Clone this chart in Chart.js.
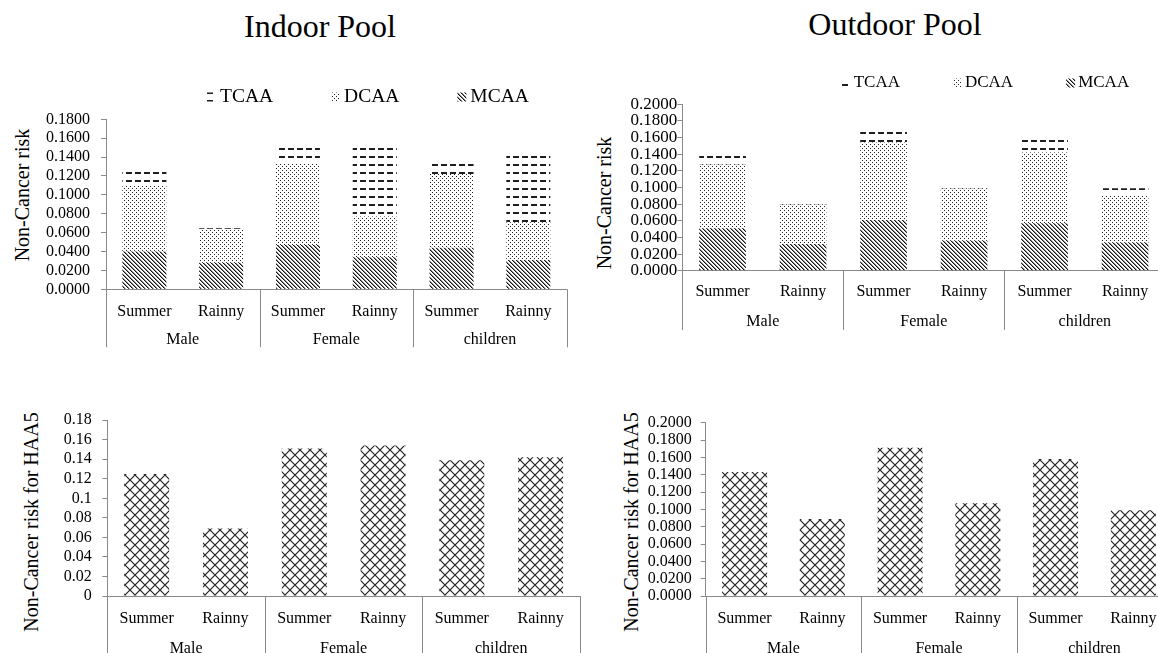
<!DOCTYPE html>
<html>
<head>
<meta charset="utf-8">
<script src="https://cdn.jsdelivr.net/npm/chart.js@4.4.1/dist/chart.umd.min.js"></script>
<style>
  html, body { margin: 0; padding: 0; background: #fff; }
  body { width: 1158px; height: 653px; overflow: hidden; position: relative; font-family: 'Liberation Serif', serif; color: #000; }
  canvas { position: absolute; }
  .title { position: absolute; font-size: 32px; line-height: 32px; white-space: nowrap; transform: translateX(-50%); }
  .ytitle { position: absolute; font-size: 20px; line-height: 20px; white-space: nowrap; transform: translate(-50%, -50%) rotate(-90deg); }
</style>
</head>
<body>
<div class="title" style="left:320px; top:10px;">Indoor Pool</div>
<div class="title" style="left:895px; top:8px;">Outdoor Pool</div>
<div class="ytitle" style="left:22px; top:195px;">Non-Cancer risk</div>
<div class="ytitle" style="left:604px; top:203px;">Non-Cancer risk</div>
<div class="ytitle" style="left:31px; top:522px;">Non-Cancer risk for HAA5</div>
<div class="ytitle" style="left:631px; top:522px;">Non-Cancer risk for HAA5</div>

<canvas id="indoorStack" width="590" height="300" style="left:0px; top:60px;"></canvas>
<canvas id="outdoorStack" width="600" height="290" style="left:590px; top:60px;"></canvas>
<canvas id="indoorTotal" width="600" height="253" style="left:0px; top:400px;"></canvas>
<canvas id="outdoorTotal" width="610" height="253" style="left:580px; top:400px;"></canvas>

<script>
// ---- data ----
const groups = ['Male', 'Female', 'children'];
const seasons = ['Summer', 'Rainny'];
const categories = ['Summer', 'Rainny', 'Summer', 'Rainny', 'Summer', 'Rainny'];

// Indoor pool, non-cancer risk by compound (stacked)
const indoorMCAA = [0.040, 0.028, 0.047, 0.034, 0.044, 0.031];
const indoorDCAA = [0.070, 0.036, 0.086, 0.043, 0.078, 0.040];
const indoorTCAA = [0.016, 0.005, 0.018, 0.078, 0.017, 0.072];

// Outdoor pool, non-cancer risk by compound (stacked)
const outdoorMCAA = [0.051, 0.032, 0.061, 0.036, 0.057, 0.034];
const outdoorDCAA = [0.077, 0.048, 0.093, 0.063, 0.085, 0.057];
const outdoorTCAA = [0.010, 0.005, 0.018, 0.007, 0.017, 0.008];

// Total HAA5 non-cancer risk
const indoorHAA5 = [0.125, 0.069, 0.151, 0.154, 0.139, 0.142];
const outdoorHAA5 = [0.143, 0.089, 0.171, 0.107, 0.158, 0.099];

// ---- styling helpers ----
const AXIS = '#8a8a8a';
const FAMILY = "'Liberation Serif', serif";

function tile(w, h, draw) {
  const c = document.createElement('canvas');
  c.width = w; c.height = h;
  const g = c.getContext('2d');
  draw(g);
  return document.createElement('canvas').getContext('2d').createPattern(c, 'repeat');
}
// downward diagonal stripes
const patMCAA = tile(4, 4, g => {
  for (let i = 0; i < 4; i++) {
    g.fillStyle = '#111'; g.fillRect(i, i, 1, 1);
    g.fillStyle = '#8a8a8a'; g.fillRect((i + 1) % 4, i, 1, 1);
  }
});
// fine dots
const patDCAA = tile(4, 4, g => {
  g.fillStyle = '#222';
  g.fillRect(0, 0, 1, 1); g.fillRect(2, 2, 1, 1);
});
// horizontal dashes
const patTCAA = tile(9, 8, g => {
  g.fillStyle = '#1e1e1e';
  g.fillRect(0, 0, 6, 2);
});
// diamond cross-hatch
const patHAA5 = tile(10, 10, g => {
  g.strokeStyle = '#222'; g.lineWidth = 1.2;
  g.beginPath();
  g.moveTo(-1, -1); g.lineTo(11, 11);
  g.moveTo(11, -1); g.lineTo(-1, 11);
  g.stroke();
});

// legend drawn as pattern swatches followed by the series name
const swatchLegend = {
  id: 'swatchLegend',
  afterDraw(chart, args, o) {
    if (!o || !o.order) return;
    const ctx = chart.ctx;
    ctx.save();
    ctx.font = o.size + 'px ' + FAMILY;
    ctx.textBaseline = 'middle';
    let x = o.x;
    o.order.forEach(i => {
      const ds = chart.data.datasets[i];
      ctx.fillStyle = ds.backgroundColor;
      ctx.fillRect(x, o.y - o.box / 2, o.box, o.box);
      ctx.fillStyle = '#000';
      const tx = x + o.box + o.textGap;
      ctx.fillText(ds.label, tx, o.y);
      x = tx + ctx.measureText(ds.label).width + o.gap;
    });
    ctx.restore();
  }
};

// second category level: group separators and group names below the season labels
const groupAxis = {
  id: 'groupAxis',
  afterDraw(chart, args, o) {
    const xs = chart.scales.x;
    const a = chart.chartArea;
    const ctx = chart.ctx;
    const per = seasons.length;
    const bounds = [a.left];
    for (let g = 1; g < groups.length; g++) {
      bounds.push((xs.getPixelForValue(g * per - 1) + xs.getPixelForValue(g * per)) / 2);
    }
    bounds.push(a.right);
    ctx.save();
    ctx.strokeStyle = AXIS;
    ctx.lineWidth = 1;
    bounds.forEach(b => {
      const px = Math.round(b) + 0.5;
      ctx.beginPath();
      ctx.moveTo(px, a.bottom);
      ctx.lineTo(px, a.bottom + o.lineLen);
      ctx.stroke();
    });
    ctx.fillStyle = '#000';
    ctx.font = o.size + 'px ' + FAMILY;
    ctx.textAlign = 'center';
    ctx.textBaseline = 'middle';
    groups.forEach((name, g) => {
      ctx.fillText(name, (bounds[g] + bounds[g + 1]) / 2, a.bottom + o.labelOffset);
    });
    ctx.restore();
  }
};

const fixed4 = v => Number(v).toFixed(4);
const general = v => String(Number(Number(v).toFixed(2)));
const TICK_LEN = 5;

function build(id, spec) {
  const ctx = document.getElementById(id).getContext('2d');
  return new Chart(ctx, {
    type: 'bar',
    data: { labels: categories, datasets: spec.datasets },
    plugins: [swatchLegend, groupAxis],
    options: {
      responsive: false,
      animation: false,
      devicePixelRatio: 1,
      layout: { padding: spec.padding },
      datasets: { bar: { categoryPercentage: 1, barPercentage: spec.barPct, borderWidth: 0 } },
      plugins: {
        legend: { display: false },
        tooltip: { enabled: false },
        swatchLegend: spec.legend || {},
        groupAxis: spec.group
      },
      scales: {
        x: {
          stacked: true,
          grid: { display: false, drawTicks: false },
          border: { display: true, color: AXIS, width: 1 },
          ticks: { color: '#000', font: { family: FAMILY, size: 16 }, padding: spec.xPad, maxRotation: 0, autoSkip: false },
          afterFit: s => { s.height = spec.xHeight; }
        },
        y: {
          stacked: true,
          min: 0,
          max: spec.max,
          // outside tick marks only, no gridlines across the plot
          grid: { display: true, drawOnChartArea: false, drawTicks: true, tickLength: TICK_LEN, color: AXIS },
          border: { display: true, color: AXIS, width: 1 },
          ticks: { stepSize: 0.02, autoSkip: false, color: '#000', font: { family: FAMILY, size: spec.yFont || 16 }, padding: Math.max(0, spec.yPad - TICK_LEN), callback: spec.fmt },
          afterFit: s => { s.width = spec.yWidth; }
        }
      }
    }
  });
}

function stackSets(m, d, t) {
  return [
    { label: 'MCAA', data: m, backgroundColor: patMCAA },
    { label: 'DCAA', data: d, backgroundColor: patDCAA },
    { label: 'TCAA', data: t, backgroundColor: patTCAA }
  ];
}

function drawAll() {
  build('indoorStack', {
    datasets: stackSets(indoorMCAA, indoorDCAA, indoorTCAA),
    padding: { top: 59.3, right: 23.3, left: 0, bottom: 0 },
    yWidth: 106, xHeight: 70.7, yPad: 16, xPad: 12.8, barPct: 0.573,
    max: 0.18, fmt: fixed4,
    legend: { order: [2, 1, 0], x: 207, y: 37, box: 9, textGap: 4, gap: 58, size: 19.5 },
    group: { lineLen: 58, labelOffset: 50.7, size: 16 }
  });

  build('outdoorStack', {
    datasets: stackSets(outdoorMCAA, outdoorDCAA, outdoorTCAA),
    padding: { top: 44.3, right: 24.7, left: 0, bottom: 0 },
    yWidth: 92.3, xHeight: 79.3, yPad: 5, xPad: 11.4, barPct: 0.58,
    max: 0.2, fmt: fixed4, yFont: 17,
    legend: { order: [2, 1, 0], x: 251.7, y: 23, box: 9, textGap: 3, gap: 53, size: 17 },
    group: { lineLen: 59.3, labelOffset: 51, size: 16 }
  });

  build('indoorTotal', {
    datasets: [{ label: 'HAA5', data: indoorHAA5, backgroundColor: patHAA5 }],
    padding: { top: 20, right: 20, left: 0, bottom: 0 },
    yWidth: 107.3, xHeight: 57, yPad: 15.6, xPad: 12.7, barPct: 0.571,
    max: 0.18, fmt: general,
    group: { lineLen: 80, labelOffset: 52.3, size: 16 }
  });

  build('outdoorTotal', {
    datasets: [{ label: 'HAA5', data: outdoorHAA5, backgroundColor: patHAA5 }],
    padding: { top: 22.7, right: 17.8, left: 0, bottom: 0 },
    yWidth: 125.7, xHeight: 57, yPad: 14, xPad: 12.7, barPct: 0.579,
    max: 0.2, fmt: fixed4,
    group: { lineLen: 80, labelOffset: 52.3, size: 16 }
  });
}

Chart.defaults.font.family = FAMILY;
if (document.fonts && document.fonts.load) {
  document.fonts.load("16px 'Liberation Serif'").then(drawAll, drawAll);
} else {
  drawAll();
}
</script>
</body>
</html>
